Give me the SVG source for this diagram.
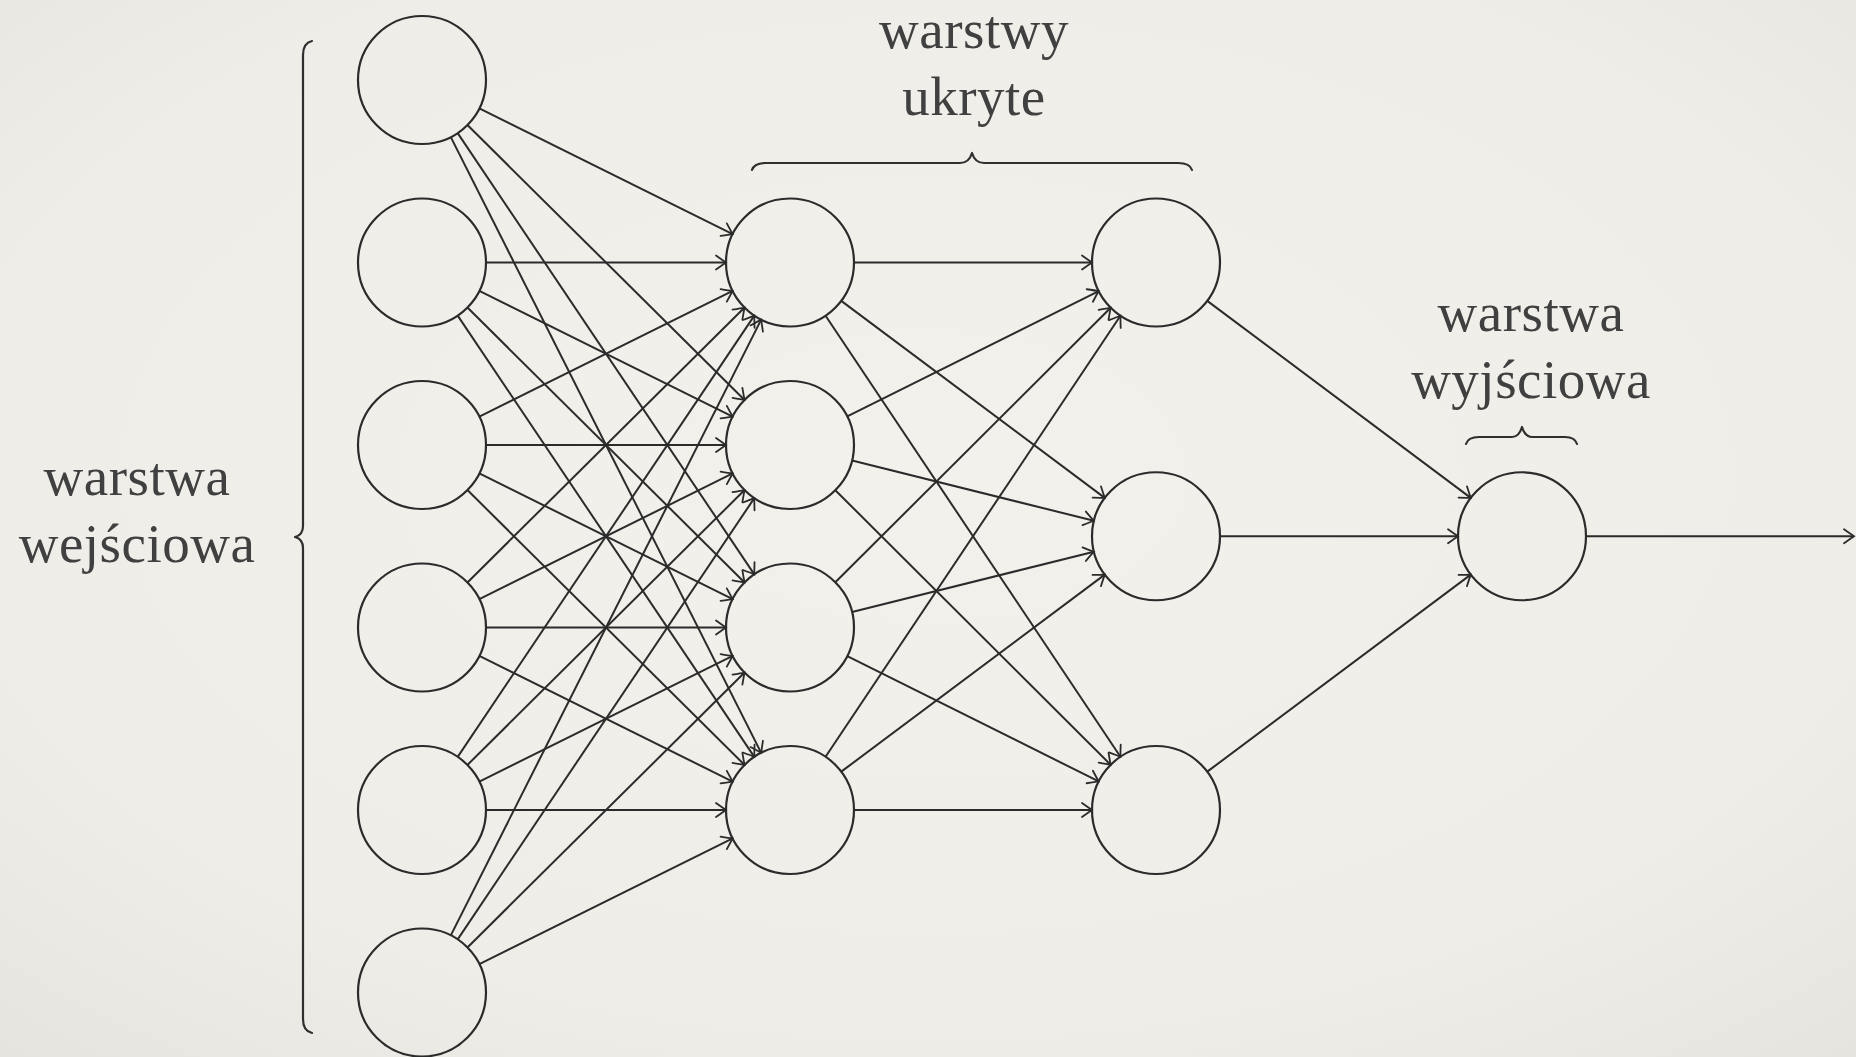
<svg xmlns="http://www.w3.org/2000/svg" width="1856" height="1057" viewBox="0 0 1856 1057">
  <defs>
    <radialGradient id="paper" cx="50%" cy="45%" r="75%">
      <stop offset="0" stop-color="#f3f1ec"/>
      <stop offset="0.7" stop-color="#efede8"/>
      <stop offset="1" stop-color="#e6e4df"/>
    </radialGradient>
    <marker id="arrow" viewBox="-12 -9 14 18" markerWidth="14" markerHeight="18" refX="0" refY="0" orient="auto" markerUnits="userSpaceOnUse">
      <path d="M -10,-7 Q -3,-2 0,0 Q -3,2 -10,7" fill="none" stroke="#2b2b2b" stroke-width="1.8" stroke-linecap="round"/>
    </marker>
  </defs>
  <style>
    .node { fill: none; stroke: #2b2b2b; stroke-width: 2.2; }
    .edge { fill: none; stroke: #2b2b2b; stroke-width: 2; marker-end: url(#arrow); }
    .brace { fill: none; stroke: #2f2f2f; stroke-width: 2.2; stroke-linecap: round; stroke-linejoin: round; }
    .label { font-family: "Liberation Serif", "DejaVu Serif", serif; font-size: 55px; letter-spacing: 0.5px; fill: #404040; text-anchor: middle; }
  </style>

  <rect x="0" y="0" width="1856" height="1057" fill="url(#paper)"/>

  <!-- connectors: input -> hidden 1 -> hidden 2 -> output -->
  <g id="connectors">
    <!-- from input 0 -->
    <path class="edge" d="M 479.34 108.43 L 732.66 234.07"/>
    <path class="edge" d="M 467.44 125.07 L 744.56 399.93"/>
    <path class="edge" d="M 457.70 133.12 L 754.30 574.38"/>
    <path class="edge" d="M 450.81 137.15 L 761.19 752.85"/>
    <!-- from input 1 -->
    <path class="edge" d="M 486 262.5 L 726 262.5"/>
    <path class="edge" d="M 479.34 290.93 L 732.66 416.57"/>
    <path class="edge" d="M 467.44 307.57 L 744.56 582.43"/>
    <path class="edge" d="M 457.70 315.62 L 754.30 756.88"/>
    <!-- from input 2 -->
    <path class="edge" d="M 479.34 416.57 L 732.66 290.93"/>
    <path class="edge" d="M 486 445 L 726 445"/>
    <path class="edge" d="M 479.34 473.43 L 732.66 599.07"/>
    <path class="edge" d="M 467.44 490.07 L 744.56 764.93"/>
    <!-- from input 3 -->
    <path class="edge" d="M 467.44 582.43 L 744.56 307.57"/>
    <path class="edge" d="M 479.34 599.07 L 732.66 473.43"/>
    <path class="edge" d="M 486 627.5 L 726 627.5"/>
    <path class="edge" d="M 479.34 655.93 L 732.66 781.57"/>
    <!-- from input 4 -->
    <path class="edge" d="M 457.70 756.88 L 754.30 315.62"/>
    <path class="edge" d="M 467.44 764.93 L 744.56 490.07"/>
    <path class="edge" d="M 479.34 781.57 L 732.66 655.93"/>
    <path class="edge" d="M 486 810 L 726 810"/>
    <!-- from input 5 -->
    <path class="edge" d="M 450.81 935.35 L 761.19 319.65"/>
    <path class="edge" d="M 457.70 939.38 L 754.30 498.12"/>
    <path class="edge" d="M 467.44 947.43 L 744.56 672.57"/>
    <path class="edge" d="M 479.34 964.07 L 732.66 838.43"/>

    <!-- hidden 1 -> hidden 2 -->
    <path class="edge" d="M 854 262.5 L 1092 262.5"/>
    <path class="edge" d="M 841.25 300.83 L 1104.75 497.92"/>
    <path class="edge" d="M 825.57 315.71 L 1120.43 756.79"/>
    <path class="edge" d="M 847.27 416.44 L 1098.73 291.06"/>
    <path class="edge" d="M 852.10 460.48 L 1093.90 520.77"/>
    <path class="edge" d="M 835.32 490.19 L 1110.68 764.81"/>
    <path class="edge" d="M 835.32 582.31 L 1110.68 307.69"/>
    <path class="edge" d="M 852.10 612.02 L 1093.90 551.73"/>
    <path class="edge" d="M 847.27 656.06 L 1098.73 781.44"/>
    <path class="edge" d="M 825.57 756.79 L 1120.43 315.71"/>
    <path class="edge" d="M 841.25 771.67 L 1104.75 574.58"/>
    <path class="edge" d="M 854 810 L 1092 810"/>

    <!-- hidden 2 -> output -->
    <path class="edge" d="M 1207.25 300.83 L 1470.75 497.92"/>
    <path class="edge" d="M 1220 536.25 L 1458 536.25"/>
    <path class="edge" d="M 1207.25 771.67 L 1470.75 574.58"/>

    <!-- output -> result -->
    <path class="edge" d="M 1586 536.25 L 1854 536.25"/>
  </g>

  <!-- input layer -->
  <g id="in0"><circle class="node" cx="422" cy="80" r="64"/></g>
  <g id="in1"><circle class="node" cx="422" cy="262.5" r="64"/></g>
  <g id="in2"><circle class="node" cx="422" cy="445" r="64"/></g>
  <g id="in3"><circle class="node" cx="422" cy="627.5" r="64"/></g>
  <g id="in4"><circle class="node" cx="422" cy="810" r="64"/></g>
  <g id="in5"><circle class="node" cx="422" cy="992.5" r="64"/></g>

  <!-- first hidden layer -->
  <g id="h1_0"><circle class="node" cx="790" cy="262.5" r="64"/></g>
  <g id="h1_1"><circle class="node" cx="790" cy="445" r="64"/></g>
  <g id="h1_2"><circle class="node" cx="790" cy="627.5" r="64"/></g>
  <g id="h1_3"><circle class="node" cx="790" cy="810" r="64"/></g>

  <!-- second hidden layer -->
  <g id="h2_0"><circle class="node" cx="1156" cy="262.5" r="64"/></g>
  <g id="h2_1"><circle class="node" cx="1156" cy="536.25" r="64"/></g>
  <g id="h2_2"><circle class="node" cx="1156" cy="810" r="64"/></g>

  <!-- output layer -->
  <g id="out0"><circle class="node" cx="1522" cy="536.25" r="64"/></g>

  <!-- braces -->
  <g id="brace-input">
    <path class="brace" d="M 312 41 Q 303 43 303 55 L 303 526 Q 303 535 295 537 Q 303 539 303 548 L 303 1019 Q 303 1031 312 1033"/>
  </g>
  <g id="brace-hidden">
    <path class="brace" d="M 752 170 Q 754 163 766 163 L 960 163 Q 969 163 972 153 Q 975 163 984 163 L 1178 163 Q 1190 163 1192 170"/>
  </g>
  <g id="brace-output">
    <path class="brace" d="M 1466 444 Q 1468 437 1479 437 L 1512 437 Q 1519 437 1522 427 Q 1525 437 1532 437 L 1565 437 Q 1575 437 1577 444"/>
  </g>

  <!-- labels -->
  <g id="label-input">
    <text class="label" x="137" y="495">warstwa</text>
    <text class="label" x="137" y="562">wejściowa</text>
  </g>
  <g id="label-hidden">
    <text class="label" x="974" y="48">warstwy</text>
    <text class="label" x="974" y="115">ukryte</text>
  </g>
  <g id="label-output">
    <text class="label" x="1531" y="331">warstwa</text>
    <text class="label" x="1531" y="398">wyjściowa</text>
  </g>
</svg>
